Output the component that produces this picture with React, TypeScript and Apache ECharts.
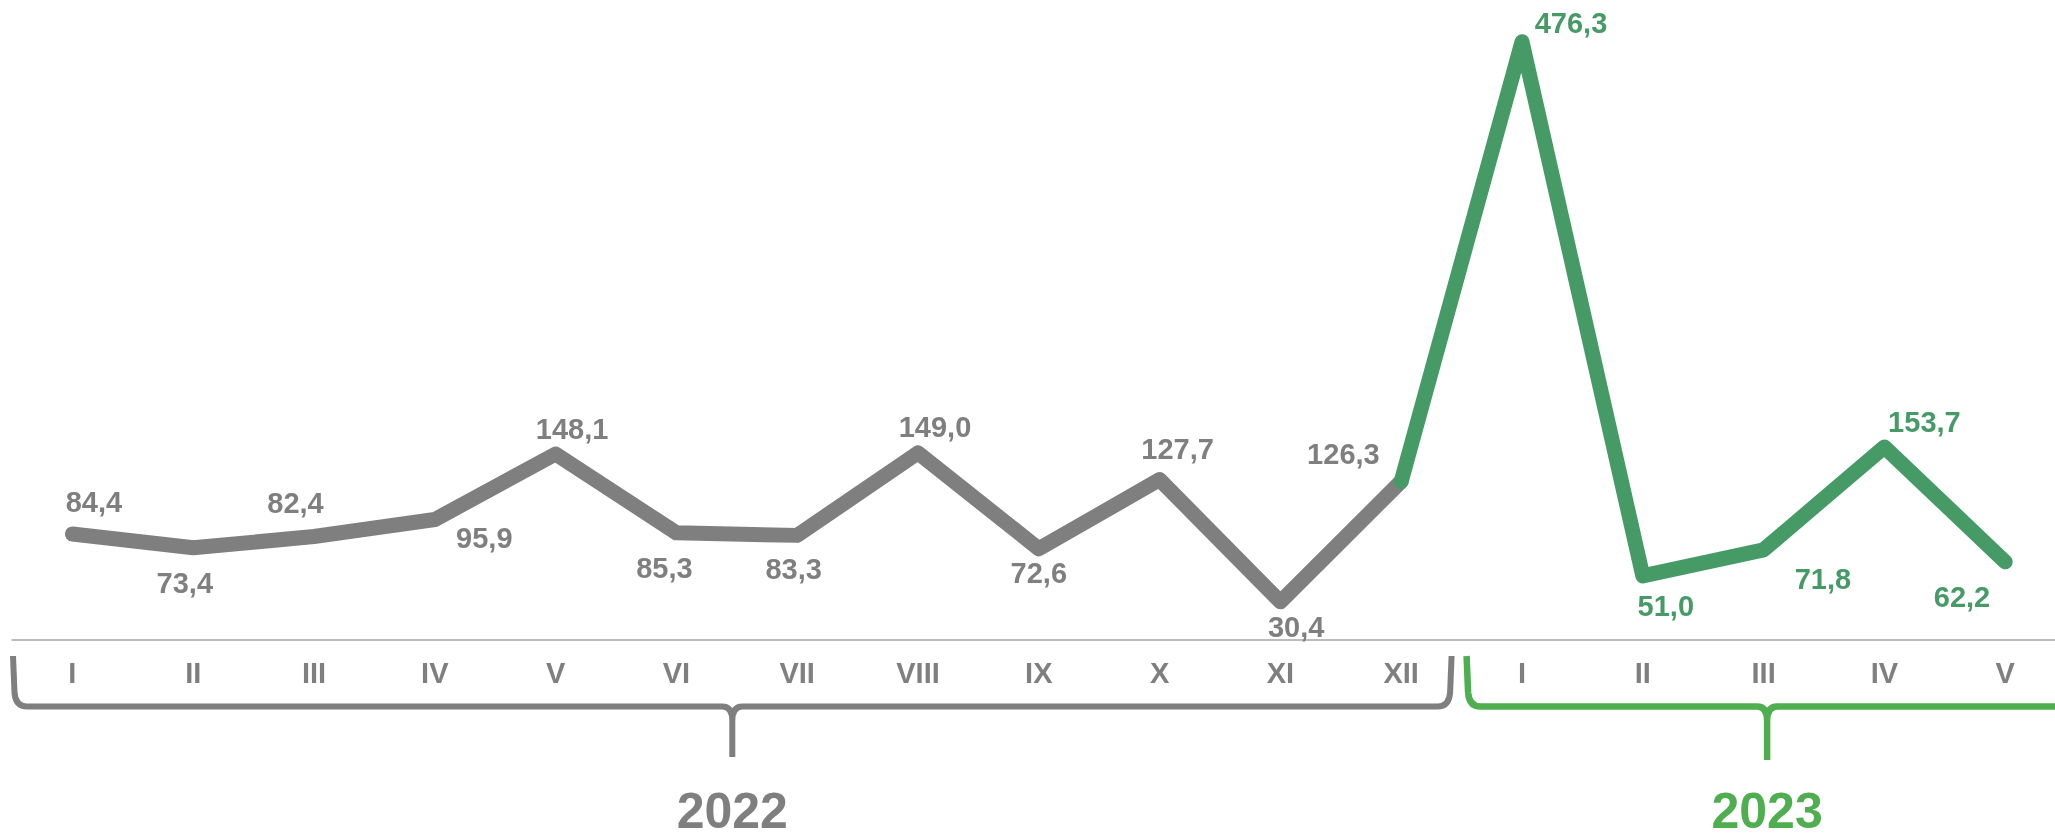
import React, { useEffect, useRef } from "react";
import * as echarts from "echarts";

const months2022 = ["I", "II", "III", "IV", "V", "VI", "VII", "VIII", "IX", "X", "XI", "XII"];
const months2023 = ["I", "II", "III", "IV", "V"];
const values2022 = [84.4, 73.4, 82.4, 95.9, 148.1, 85.3, 83.3, 149.0, 72.6, 127.7, 30.4, 126.3];
const values2023 = [476.3, 51.0, 71.8, 153.7, 62.2];
const years = ["2022", "2023"];

// label placement relative to each point (style, not data)
const labelOffsets2022 = [
  [21.5, -32], [-8.4, 35.4], [-18.5, -33.8], [49.5, 18.5], [16.5, -25.3], [-12, 35],
  [-3.6, 33.5], [17, -25.5], [0, 24], [18, -30.6], [15.8, 25], [-57.8, -27.8],
];
const labelOffsets2023 = [[49, -19], [23, 29.6], [59.3, 28.8], [40, -24.8], [-43.2, 35]];

const GRAY = "#7f7f7f";
const GREEN_LINE = "#469a66";
const GREEN = "#4fae4f";
const FONT = "'Liberation Sans', Arial, sans-serif";

const categories = [
  ...months2022.map((m) => "2022 " + m),
  ...months2023.map((m) => "2023 " + m),
];

const fmt = (v: number) => v.toFixed(1).replace(".", ",");

const Brace = echarts.graphic.extendShape({
  type: "brace",
  shape: { x0: 0, x1: 0, cx: 0, top: 0, bottom: 0, stem: 0 },
  buildPath(ctx: any, s: any) {
    const r = 14;
    const r2 = 10;
    ctx.moveTo(s.x0, s.top);
    ctx.lineTo(s.x0 + 1.5, s.bottom - r);
    ctx.quadraticCurveTo(s.x0 + 2.5, s.bottom, s.x0 + r, s.bottom);
    ctx.lineTo(s.cx - r2, s.bottom);
    ctx.quadraticCurveTo(s.cx, s.bottom, s.cx, s.bottom + 14);
    ctx.lineTo(s.cx, s.stem);
    ctx.moveTo(s.cx, s.bottom + 14);
    ctx.quadraticCurveTo(s.cx, s.bottom, s.cx + r2, s.bottom);
    ctx.lineTo(s.x1 - r, s.bottom);
    ctx.quadraticCurveTo(s.x1 - 2.5, s.bottom, s.x1 - 1.5, s.bottom - r);
    ctx.lineTo(s.x1, s.top);
  },
});
echarts.graphic.registerShape("brace", Brace);

export default function App() {
  const ref = useRef<HTMLDivElement>(null);
  useEffect(() => {
    if (!ref.current) return;
    const chart = echarts.init(ref.current, undefined, { renderer: "svg" });
    const n22 = values2022.length;
    const grayData = [
      ...values2022.map((v, i) => ({
        value: v,
        label: { offset: labelOffsets2022[i] },
      })),
      ...values2023.map(() => null),
    ];
    const greenData: any[] = [
      ...values2022.map((v, i) =>
        i === n22 - 1 ? { value: v, label: { show: false } } : null
      ),
      ...values2023.map((v, i) => ({
        value: v,
        label: { offset: labelOffsets2023[i] },
      })),
    ];
    const labelBase = {
      show: true,
      position: "inside",
      fontSize: 29,
      fontWeight: "bold",
      fontFamily: FONT,
      formatter: (p: any) => fmt(p.value),
    };
    chart.setOption({
      animation: false,
      grid: { left: 12, top: 12, width: 17 * 120.8, height: 628, outerBoundsMode: "none", containLabel: false },
      xAxis: {
        type: "category",
        data: categories,
        boundaryGap: true,
        axisLine: { lineStyle: { color: "#a6a6a6", width: 1.5 } },
        axisTick: { length: 8, lineStyle: { color: "#a6a6a6", width: 1.5 } },
        axisLabel: {
          interval: 0,
          margin: 18,
          fontSize: 29,
          fontWeight: "bold",
          fontFamily: FONT,
          color: GRAY,
          formatter: (v: string) => v.split(" ")[1],
        },
      },
      yAxis: { type: "value", min: 0, max: 500, show: false },
      series: [
        {
          type: "line",
          data: grayData,
          symbol: "circle",
          symbolSize: 2,
          itemStyle: { color: GRAY },
          lineStyle: { color: GRAY, width: 15, cap: "round", join: "round" },
          label: { ...labelBase, color: GRAY },
          z: 2,
        },
        {
          type: "line",
          data: greenData,
          symbol: "circle",
          symbolSize: 2,
          itemStyle: { color: GREEN_LINE },
          lineStyle: { color: GREEN_LINE, width: 15, cap: "round", join: "round" },
          label: { ...labelBase, color: GREEN_LINE },
          z: 3,
        },
      ],
    });

    const cx = (i: number) => chart.convertToPixel({ gridIndex: 0 }, [i, 0])[0];
    const bw = cx(1) - cx(0);
    const boundary = (i: number) => cx(0) - bw / 2 + i * bw;
    const n = categories.length;
    const ranges = [
      { x0: boundary(0) + 1, x1: boundary(n22) - 10, color: GRAY, stem: 757, lw: 6 },
      { x0: boundary(n22) + 5, x1: boundary(n) + 2, color: GREEN, stem: 760, lw: 6.5 },
    ];
    const graphics: any[] = [];
    ranges.forEach((r, k) => {
      const mid = (r.x0 + r.x1) / 2;
      graphics.push({
        type: "brace",
        shape: { x0: r.x0, x1: r.x1, cx: mid, top: 656, bottom: 706.5, stem: r.stem },
        style: { stroke: r.color, lineWidth: r.lw, fill: "none", lineCap: "butt", lineJoin: "round" },
        silent: true,
      });
      graphics.push({
        type: "text",
        x: mid,
        y: 811,
        style: {
          text: years[k],
          fontSize: 50,
          lineHeight: 40,
          fontWeight: "bold",
          fontFamily: FONT,
          fill: r.color,
          align: "center",
          verticalAlign: "middle",
        },
        silent: true,
      });
    });
    chart.setOption({ graphic: graphics });

    return () => chart.dispose();
  }, []);
  return (
    <div
      ref={ref}
      style={{ position: "fixed", left: 0, top: 0, width: 2055, height: 839 }}
    />
  );
}
